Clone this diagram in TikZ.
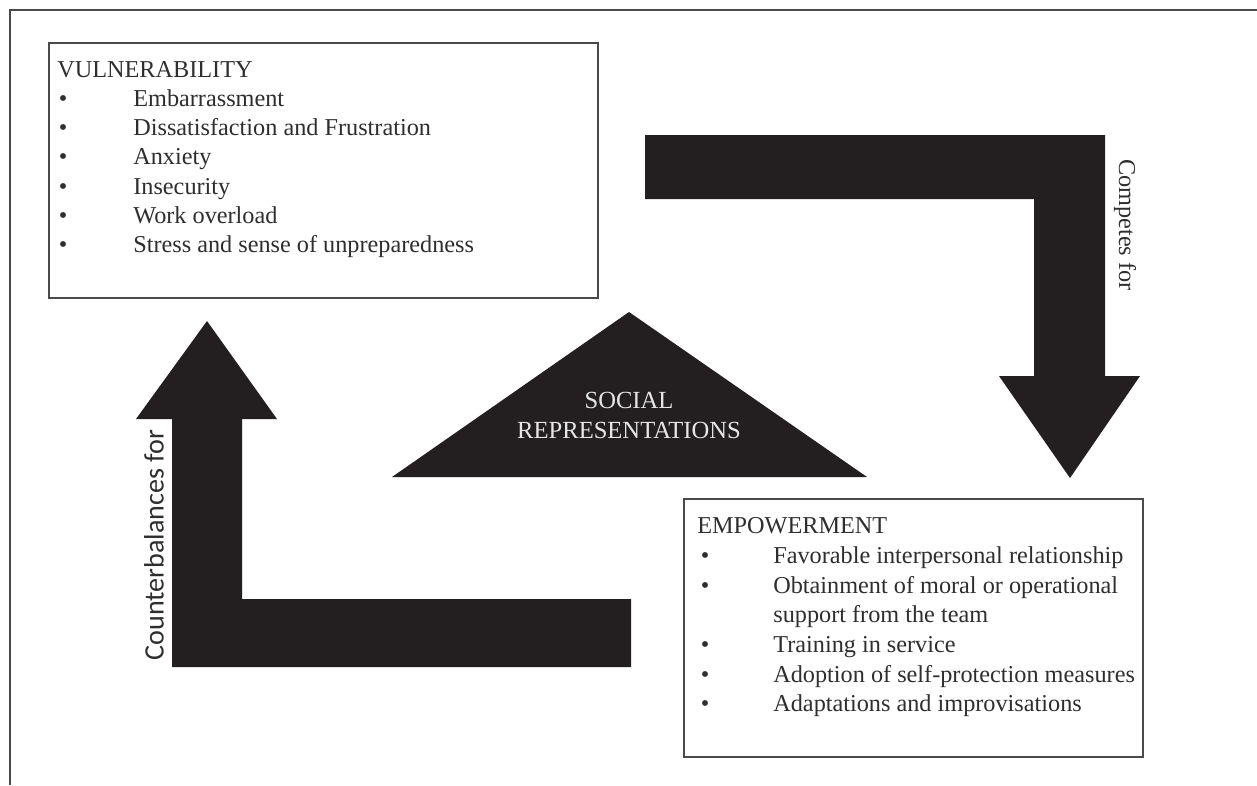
\documentclass[tikz,border=0pt]{standalone}
\usepackage{fontspec}
\setmainfont{Liberation Serif}
\newfontfamily\sidefont{Carlito}
\definecolor{ink}{HTML}{2E2E2E}
\definecolor{boxgray}{HTML}{4A4A4A}
\definecolor{blockblack}{HTML}{231F20}
\definecolor{paleink}{HTML}{E6E6E6}

\begin{document}
\begin{tikzpicture}[x=0.02cm,y=-0.02cm]
\tikzstyle{panel}=[draw=boxgray,line width=1.1pt,fill=white,anchor=north west,inner sep=0pt]
\tikzstyle{txt}=[anchor=base west,inner sep=0pt,text=ink,font=\fontsize{13.8}{16.5}\selectfont]
\tikzstyle{dot}=[anchor=base,inner sep=0pt,text=ink,font=\fontsize{13.8}{16.5}\selectfont]
\tikzstyle{block}=[fill=blockblack]
\useasboundingbox (0,0) rectangle (1257,785);
\fill[white] (0,0) rectangle (1257,785);
\draw[boxgray,line width=1.2pt] (1257,10) -- (10,10) -- (10,785);

% vulnerability box
\path (48,42) node[panel,minimum width=10.98cm,minimum height=5.1cm](vul){};
\path (57,77) node[txt](vul0){VULNERABILITY};
\path (63,106) node[dot]{\textbullet} (133,106) node[txt](vul1){Embarrassment};
\path (63,135) node[dot]{\textbullet} (133,135) node[txt](vul2){Dissatisfaction and Frustration};
\path (63,164) node[dot]{\textbullet} (133,164) node[txt](vul3){Anxiety};
\path (63,194) node[dot]{\textbullet} (133,194) node[txt](vul4){Insecurity};
\path (63,223) node[dot]{\textbullet} (133,223) node[txt](vul5){Work overload};
\path (63,252) node[dot]{\textbullet} (133,252) node[txt](vul6){Stress and sense of unpreparedness};

% empowerment box
\path (683,498) node[panel,minimum width=9.18cm,minimum height=5.16cm](emp){};
\path (697,533) node[txt](emp0){EMPOWERMENT};
\path (705,563) node[dot]{\textbullet} (773,563) node[txt](emp1){Favorable interpersonal relationship};
\path (705,593) node[dot]{\textbullet} (773,593) node[txt](emp2){Obtainment of moral or operational};
\path (773,622) node[txt](emp3){support from the team};
\path (705,652) node[dot]{\textbullet} (773,652) node[txt](emp4){Training in service};
\path (705,682) node[dot]{\textbullet} (773,682) node[txt](emp5){Adoption of self-protection measures};
\path (705,711) node[dot]{\textbullet} (773,711) node[txt](emp6){Adaptations and improvisations};

% block arrows
\fill[block] (645,135) -- (1105,135) -- (1105,376) -- (1140,376) -- (1070,478)
  -- (999,376) -- (1034,376) -- (1034,199) -- (645,199) -- cycle;
\fill[block] (631,599) -- (631,667) -- (172,667) -- (172,419) -- (136,419)
  -- (207,321) -- (277,419) -- (242,419) -- (242,599) -- cycle;
\path (1125,225) node[rotate=-90,inner sep=0pt,text=ink,font=\fontsize{13.8}{16.5}\selectfont](comp){Competes for};
\path (154,545) node[rotate=90,inner sep=0pt,text=ink,font=\sidefont\fontsize{16}{18}\selectfont](count){Counterbalances for};

% central triangle
\fill[block] (629,312) -- (867,477) -- (392,477) -- cycle;
\path (629,408) node[anchor=base,inner sep=0pt,text=paleink,font=\fontsize{14}{16.5}\selectfont](soc){SOCIAL};
\path (629,438) node[anchor=base,inner sep=0pt,text=paleink,font=\fontsize{14}{16.5}\selectfont](rep){REPRESENTATIONS};
\end{tikzpicture}
\end{document}
